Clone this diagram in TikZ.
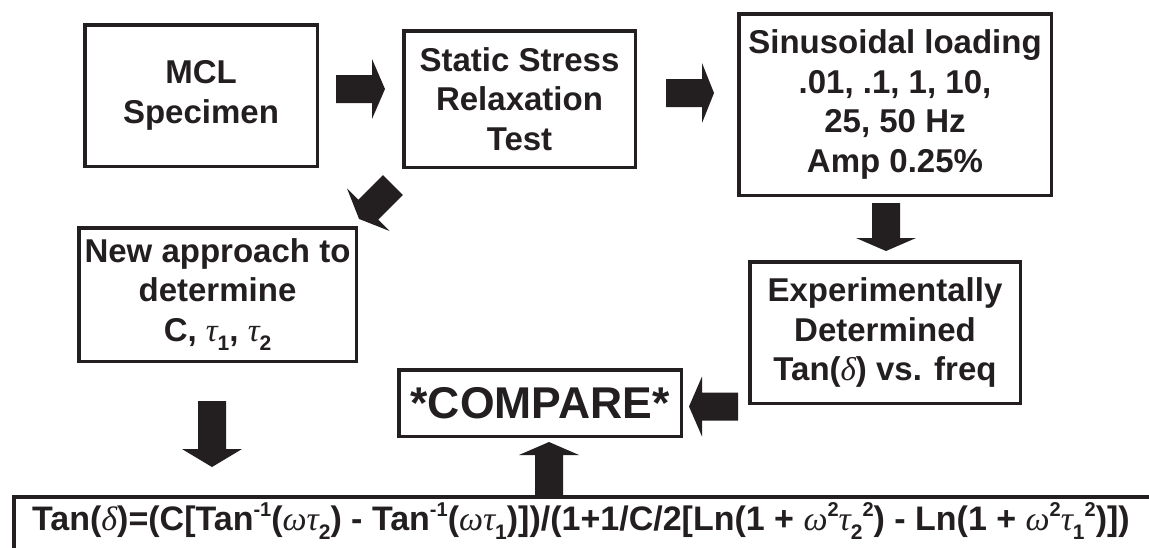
\documentclass[tikz,border=0pt]{standalone}
\usepackage{fontspec}
\setmainfont{Liberation Sans}
\newfontfamily\grk{Liberation Serif}
\definecolor{ink}{HTML}{231F20}
\newcommand\gr[1]{{\grk\mdseries\itshape #1}}
\newcommand\sbs[1]{\raisebox{-0.28em}{\fontsize{21}{21}\selectfont #1}}
\newcommand\sps[1]{\raisebox{0.40em}{\fontsize{20}{20}\selectfont #1}}
\newcommand\barrow[6]{%
  \coordinate (#1) at (#2,#3);
  \fill[ink, shift={(#1)}, rotate=#4] (0,-14) -- (#5,-14) -- (#5,-30) -- ({#5+#6},0) -- (#5,30) -- (#5,14) -- (0,14) -- cycle;}
\tikzset{
  box/.style={draw=ink, line width=3.5pt, inner sep=0pt, text=ink, align=center,
    font=\fontsize{33}{39.5}\selectfont\bfseries},
}
\begin{document}
\begin{tikzpicture}[x=1pt, y=-1pt]
\fill[white] (0,0) rectangle (1149,547);
\clip (0,0) rectangle (1149,547);

\node[box, minimum width=232.5pt, minimum height=141.5pt] (mcl) at (201,95.5) {MCL\\Specimen};
\node[box, minimum width=231.5pt, minimum height=136.5pt] (static) at (519.5,99) {Static Stress\\Relaxation\\Test};
\node[box, minimum width=312.5pt, minimum height=181.5pt] (sinus) at (895,104.5) {Sinusoidal loading\\.01, .1, 1, 10,\\25, 50 Hz\\Amp 0.25\%};
\node[box, minimum width=277.5pt, minimum height=133.5pt] (newap) at (217.5,294.5) {New approach to\\determine\\C, \gr{τ}\sbs{1}, \gr{τ}\sbs{2}};
\node[box, minimum width=270.5pt, minimum height=141.5pt] (exper) at (885,332.5) {Experimentally\\Determined\\Tan(\gr{δ}) vs. freq};
\node[box, minimum width=282.5pt, minimum height=66.5pt, font=\fontsize{44.5}{50}\selectfont\bfseries] (comp) at (540,403) {*COMPARE*};

\draw[ink, line width=3.5pt] (13.75,570) -- (13.75,496.75) -- (1170,496.75);
\node[anchor=base west, inner sep=0pt, text=ink, font=\fontsize{34}{40}\selectfont\bfseries] (formula) at (32,530)
  {Tan(\gr{δ})=(C[Tan\sps{-1}(\gr{ωτ}\sbs{2}) - Tan\sps{-1}(\gr{ωτ}\sbs{1})])/(1+1/C/2[Ln(1 + \gr{ω}\sps{2}\gr{τ}\sbs{2}\sps{2}) - Ln(1 + \gr{ω}\sps{2}\gr{τ}\sbs{1}\sps{2})])};

\barrow{a1}{336}{89}{0}{36}{13}
\barrow{a2}{666}{93}{0}{36}{12}
\barrow{a3}{393}{185}{-135}{35}{13}
\barrow{a4}{886}{203}{-90}{35}{13}
\barrow{a5}{738}{406.5}{180}{36}{13}
\barrow{a6}{549}{495}{90}{40}{13}
\barrow{a7}{212}{401}{-90}{48}{18}
\end{tikzpicture}
\end{document}
